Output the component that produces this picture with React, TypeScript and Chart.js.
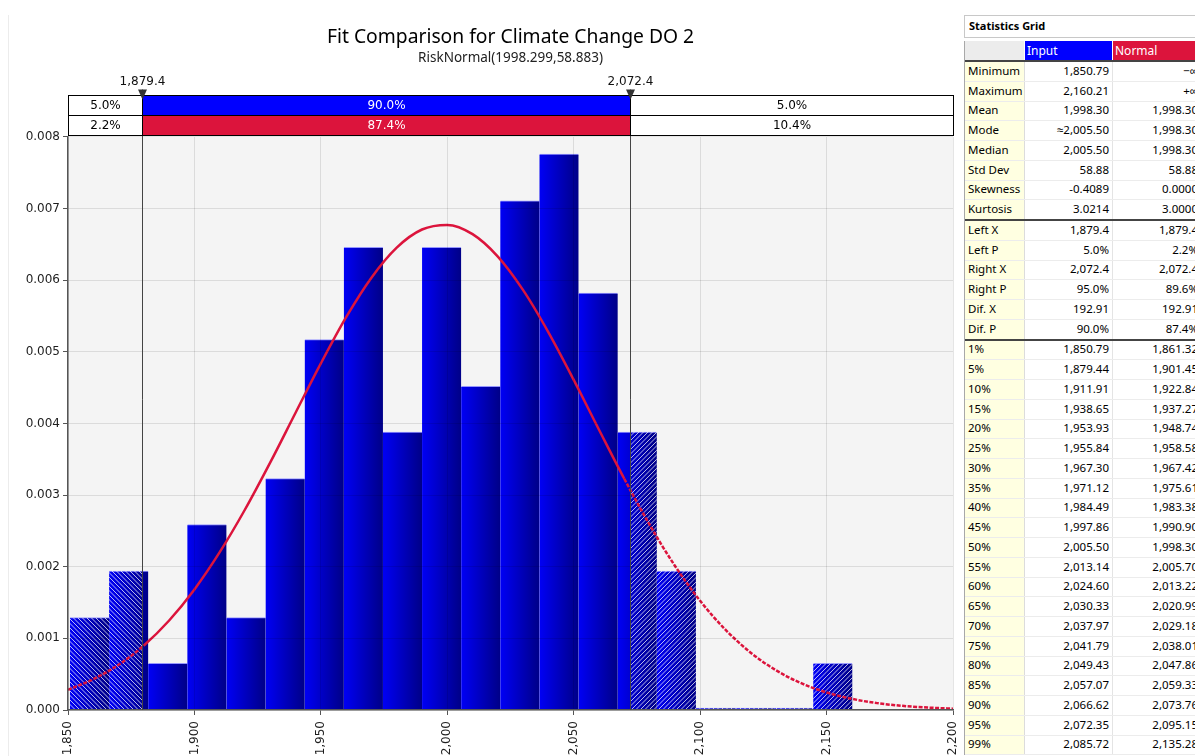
import React, { useEffect, useRef } from "react";
import { Chart, registerables } from "chart.js";

Chart.register(...registerables);

// ---------- chart data ----------
const titleText = "Fit Comparison for Climate Change DO 2";
const subtitleText = "RiskNormal(1998.299,58.883)";

const binCenters = [
  1858.53, 1874.0, 1889.47, 1904.94, 1920.41, 1935.88, 1951.35, 1966.82, 1982.29, 1997.76,
  2013.24, 2028.71, 2044.18, 2059.65, 2075.12, 2090.59, 2106.06, 2121.53, 2137.0, 2152.47,
];
const binDensity = [
  0.00129, 0.00194, 0.00065, 0.00259, 0.00129, 0.00323, 0.00517, 0.00646, 0.00388, 0.00646,
  0.00452, 0.00711, 0.00776, 0.00582, 0.00388, 0.00194, 0, 0, 0, 0.00065,
];

const curveX = [
  1850, 1860, 1870, 1880, 1890, 1900, 1910, 1920, 1930, 1940, 1950, 1960, 1970, 1980, 1990, 2000,
  2010, 2020, 2030, 2040, 2050, 2060, 2070, 2080, 2090, 2100, 2110, 2120, 2130, 2140, 2150, 2160,
  2170, 2180, 2190, 2200,
];
const curveY = [
  0.000282, 0.00043, 0.000631, 0.0009, 0.001249, 0.001683, 0.002203, 0.002799, 0.003457, 0.00415,
  0.004839, 0.005484, 0.006036, 0.006455, 0.006708, 0.006772, 0.006643, 0.00633, 0.005861, 0.005272,
  0.004608, 0.003913, 0.003228, 0.002587, 0.002014, 0.001524, 0.001121, 0.0008, 0.000555, 0.000374,
  0.000245, 0.000156, 0.000096, 0.000058, 0.000034, 0.000019,
];

const xTickValues = [1850, 1900, 1950, 2000, 2050, 2100, 2150, 2200];
const xTickLabels = ["1,850", "1,900", "1,950", "2,000", "2,050", "2,100", "2,150", "2,200"];
const yTickValues = [0, 0.001, 0.002, 0.003, 0.004, 0.005, 0.006, 0.007, 0.008];
const yTickLabels = ["0.000", "0.001", "0.002", "0.003", "0.004", "0.005", "0.006", "0.007", "0.008"];

const leftDelimiter = 1879.4;
const rightDelimiter = 2072.4;
const delimiterLabels = ["1,879.4", "2,072.4"];
const inputBandPct = ["5.0%", "90.0%", "5.0%"];
const normalBandPct = ["2.2%", "87.4%", "10.4%"];

// ---------- statistics grid ----------
const statLabels = [
  "Minimum", "Maximum", "Mean", "Mode", "Median", "Std Dev", "Skewness", "Kurtosis",
  "Left X", "Left P", "Right X", "Right P", "Dif. X", "Dif. P",
  "1%", "5%", "10%", "15%", "20%", "25%", "30%", "35%", "40%", "45%", "50%",
  "55%", "60%", "65%", "70%", "75%", "80%", "85%", "90%", "95%", "99%",
];
const statInput = [
  "1,850.79", "2,160.21", "1,998.30", "≈2,005.50", "2,005.50", "58.88", "-0.4089", "3.0214",
  "1,879.4", "5.0%", "2,072.4", "95.0%", "192.91", "90.0%",
  "1,850.79", "1,879.44", "1,911.91", "1,938.65", "1,953.93", "1,955.84", "1,967.30", "1,971.12",
  "1,984.49", "1,997.86", "2,005.50", "2,013.14", "2,024.60", "2,030.33", "2,037.97", "2,041.79",
  "2,049.43", "2,057.07", "2,066.62", "2,072.35", "2,085.72",
];
const statNormal = [
  "−∞", "+∞", "1,998.30", "1,998.30", "1,998.30", "58.88", "0.0000", "3.0000",
  "1,879.4", "2.2%", "2,072.4", "89.6%", "192.91", "87.4%",
  "1,861.32", "1,901.45", "1,922.84", "1,937.27", "1,948.74", "1,958.58", "1,967.42", "1,975.61",
  "1,983.38", "1,990.90", "1,998.30", "2,005.70", "2,013.22", "2,020.99", "2,029.18", "2,038.01",
  "2,047.86", "2,059.33", "2,073.76", "2,095.15", "2,135.28",
];
const groupEnds = [7, 13];

const TICK_FONT = { family: "'DejaVu Sans', Verdana, sans-serif", size: 12 };
const BLUE = "#0000ff";
const RED = "#dc143c";

function hatch(ctx: CanvasRenderingContext2D, x: number, y: number, w: number, h: number, dir: number) {
  if (w <= 0.2 || h <= 0.2) return;
  ctx.save();
  ctx.beginPath();
  ctx.rect(x, y, w, h);
  ctx.clip();
  ctx.strokeStyle = "rgba(255,255,255,0.72)";
  ctx.lineWidth = 1;
  ctx.beginPath();
  const s = 4.5;
  if (dir > 0) {
    const c0 = Math.floor((x + y) / s) * s;
    const c1 = x + w + y + h;
    for (let c = c0; c <= c1; c += s) {
      ctx.moveTo(c - y, y);
      ctx.lineTo(c - (y + h), y + h);
    }
  } else {
    const c0 = Math.floor((x - (y + h)) / s) * s;
    const c1 = x + w - y;
    for (let c = c0; c <= c1; c += s) {
      ctx.moveTo(c + y, y);
      ctx.lineTo(c + y + h, y + h);
    }
  }
  ctx.stroke();
  ctx.restore();
}

const histogramPlugin = {
  id: "histDecor",
  beforeDraw(chart: any) {
    const { ctx, chartArea: a } = chart;
    ctx.save();
    ctx.fillStyle = "#f4f4f4";
    ctx.fillRect(a.left, a.top, a.right - a.left, a.bottom - a.top);
    ctx.restore();
  },
  afterDatasetDraw(chart: any, args: any) {
    if (args.index !== 0) return;
    const { ctx } = chart;
    const xs = chart.scales.x;
    const lx = xs.getPixelForValue(leftDelimiter);
    const rx = xs.getPixelForValue(rightDelimiter);
    const meta = chart.getDatasetMeta(0);
    meta.data.forEach((el: any) => {
      const p = el.getProps(["x", "y", "base", "width"], true);
      const l = p.x - p.width / 2;
      const r = p.x + p.width / 2;
      const top = Math.min(p.y, p.base);
      const bot = Math.max(p.y, p.base);
      if (l < lx) hatch(ctx, l, top, Math.min(r, lx) - l, bot - top, -1);
      if (r > rx) {
        const s = Math.max(l, rx);
        hatch(ctx, s, top, r - s, bot - top, 1);
      }
    });
  },
  afterDraw(chart: any) {
    const { ctx, chartArea: a } = chart;
    const xs = chart.scales.x;
    const lx = Math.round(xs.getPixelForValue(leftDelimiter)) + 0.5;
    const rx = Math.round(xs.getPixelForValue(rightDelimiter)) + 0.5;
    const L = Math.round(a.left) + 0.5;
    const R = Math.round(a.right) + 0.5;
    const yB = Math.round(a.top) - 2 + 0.5;
    const rowH = 20;
    const y1 = yB - rowH;
    const y0 = y1 - rowH;
    ctx.save();
    // delimiter vertical lines
    ctx.strokeStyle = "#444";
    ctx.lineWidth = 1;
    [lx, rx].forEach((px) => {
      ctx.beginPath();
      ctx.moveTo(px, y0 - 6);
      ctx.lineTo(px, a.bottom);
      ctx.stroke();
    });
    // band rows
    const rows = [
      { y: y0, fill: BLUE, texts: inputBandPct },
      { y: y1, fill: RED, texts: normalBandPct },
    ];
    ctx.font = "12px 'DejaVu Sans', Verdana, sans-serif";
    ctx.textAlign = "center";
    ctx.textBaseline = "middle";
    rows.forEach((row) => {
      ctx.fillStyle = "#fff";
      ctx.fillRect(L, row.y, lx - L, rowH);
      ctx.fillRect(rx, row.y, R - rx, rowH);
      ctx.fillStyle = row.fill;
      ctx.fillRect(lx, row.y, rx - lx, rowH);
      ctx.strokeStyle = "#000";
      ctx.strokeRect(L, row.y, R - L, rowH);
      ctx.beginPath();
      ctx.moveTo(lx, row.y);
      ctx.lineTo(lx, row.y + rowH);
      ctx.moveTo(rx, row.y);
      ctx.lineTo(rx, row.y + rowH);
      ctx.stroke();
      const cy = row.y + rowH / 2 + 0.5;
      ctx.fillStyle = "#000";
      ctx.fillText(row.texts[0], (L + lx) / 2, cy);
      ctx.fillStyle = "#fff";
      ctx.fillText(row.texts[1], (lx + rx) / 2, cy);
      ctx.fillStyle = "#000";
      ctx.fillText(row.texts[2], (rx + R) / 2, cy);
    });
    // markers and labels
    [lx, rx].forEach((px, i) => {
      ctx.fillStyle = "#333";
      ctx.beginPath();
      ctx.moveTo(px - 4.5, y0 - 6);
      ctx.lineTo(px + 4.5, y0 - 6);
      ctx.lineTo(px, y0 + 4);
      ctx.closePath();
      ctx.fill();
      ctx.fillStyle = "#111";
      ctx.fillText(delimiterLabels[i], px, y0 - 14);
    });
    ctx.restore();
  },
};

function HistogramChart() {
  const ref = useRef<HTMLCanvasElement | null>(null);
  useEffect(() => {
    if (!ref.current) return;
    const chart = new Chart(ref.current, {
      type: "bar",
      data: {
        datasets: [
          {
            type: "bar",
            data: binCenters.map((x, i) => ({ x, y: binDensity[i] })),
            backgroundColor: (c: any) => {
              const ch = c.chart;
              const xs = ch.scales && ch.scales.x;
              if (!xs || c.dataIndex == null || !ch.chartArea) return "#0000c8";
              const cx = xs.getPixelForValue(binCenters[c.dataIndex]);
              const half = (xs.getPixelForValue(binCenters[1]) - xs.getPixelForValue(binCenters[0])) / 2;
              const g = ch.ctx.createLinearGradient(cx - half, 0, cx + half, 0);
              g.addColorStop(0, "rgb(0,0,245)");
              g.addColorStop(1, "rgb(0,0,135)");
              return g;
            },
            borderColor: "rgba(140,140,255,0.9)",
            borderWidth: { top: 1, left: 0, right: 0, bottom: 0 },
            barPercentage: 1,
            categoryPercentage: 1,
            minBarLength: 2,
            order: 2,
          } as any,
          {
            type: "line",
            data: curveX.map((x, i) => ({ x, y: curveY[i] })),
            borderColor: RED,
            borderWidth: 2.5,
            pointRadius: 0,
            fill: false,
            cubicInterpolationMode: "monotone",
            segment: {
              borderDash: (s: any) =>
                s.p1.parsed.x <= leftDelimiter + 1 || s.p0.parsed.x >= rightDelimiter - 3 ? [4, 1.5] : undefined,
            },
            order: 1,
          } as any,
        ],
      },
      options: {
        responsive: false,
        animation: false,
        devicePixelRatio: 1,
        layout: { padding: { left: 0, right: 9, top: 0, bottom: 0 } },
        plugins: {
          legend: { display: false },
          tooltip: { enabled: false },
          title: {
            display: true,
            text: titleText,
            fullSize: false,
            color: "#000",
            font: { family: "'Noto Sans', sans-serif", size: 19.3, weight: "normal", lineHeight: 1.2 },
            padding: { top: 26, bottom: 0 },
          },
          subtitle: {
            display: true,
            text: subtitleText,
            fullSize: false,
            color: "#222",
            font: { family: "'Noto Sans', sans-serif", size: 13.5, weight: "normal", lineHeight: 1.2 },
            padding: { top: 0.5, bottom: 71.1 },
          },
        },
        scales: {
          x: {
            type: "linear",
            min: 1850,
            max: 2200,
            offset: false,
            grid: { offset: false, color: "rgba(0,0,0,0.1)", tickColor: "#555", tickLength: 5, z: 1 },
            border: { color: "#555", width: 1.5, z: 2 },
            ticks: {
              autoSkip: false,
              maxRotation: 90,
              minRotation: 90,
              padding: 6,
              color: "#1e1e1e",
              font: TICK_FONT,
              callback: (_v: any, i: number) => xTickLabels[i],
            },
            afterBuildTicks: (s: any) => {
              s.ticks = xTickValues.map((v) => ({ value: v }));
            },
            afterFit: (s: any) => {
              s.height = 46;
              s.paddingLeft = 0;
              s.paddingRight = 0;
            },
          },
          y: {
            min: 0,
            max: 0.008,
            grid: { color: "rgba(0,0,0,0.1)", tickColor: "#555", tickLength: 5, z: 1 },
            border: { color: "#555", width: 1.5, z: 2 },
            ticks: {
              padding: 3,
              color: "#1e1e1e",
              font: TICK_FONT,
              callback: (_v: any, i: number) => yTickLabels[i],
            },
            afterBuildTicks: (s: any) => {
              s.ticks = yTickValues.map((v) => ({ value: v }));
            },
            afterFit: (s: any) => {
              s.width = 68;
              s.paddingTop = 0;
              s.paddingBottom = 0;
            },
          },
        },
      } as any,
      plugins: [histogramPlugin],
    });
    return () => chart.destroy();
  }, []);
  return (
    <canvas
      ref={ref}
      width={962}
      height={756}
      style={{ position: "absolute", left: 0, top: 0, width: 962, height: 756 }}
    />
  );
}

function StatsGrid() {
  const font = "'Noto Sans', sans-serif";
  const rows = statLabels.map((lab, i) => {
    const isEnd = groupEnds.includes(i);
    return (
      <div
        key={lab}
        style={{
          display: "flex",
          height: isEnd ? 20.75 : 19.75,
          boxSizing: "border-box",
          borderBottom: isEnd ? "2px solid #444" : "1px solid #ececec",
        }}
      >
        <div
          style={{
            width: 60,
            boxSizing: "border-box",
            background: "#ffffe1",
            borderRight: "1px solid #dcdcdc",
            paddingLeft: 3,
            paddingBottom: 2,
            display: "flex",
            alignItems: "center",
          }}
        >
          {lab}
        </div>
        <div
          style={{
            width: 88,
            boxSizing: "border-box",
            borderRight: "1px solid #e4e4e4",
            paddingRight: 3,
            paddingBottom: 2,
            display: "flex",
            alignItems: "center",
            justifyContent: "flex-end",
          }}
        >
          {statInput[i]}
        </div>
        <div
          style={{
            width: 88,
            boxSizing: "border-box",
            paddingRight: 3,
            paddingBottom: 2,
            display: "flex",
            alignItems: "center",
            justifyContent: "flex-end",
          }}
        >
          {statNormal[i]}
        </div>
      </div>
    );
  });
  return (
    <>
      <div
        style={{
          position: "absolute",
          left: 964,
          top: 15,
          width: 300,
          height: 23,
          boxSizing: "border-box",
          border: "1px solid #c8c8c8",
          fontFamily: font,
          fontWeight: "bold",
          fontSize: 11,
          lineHeight: "20px",
          paddingLeft: 4,
          color: "#000",
        }}
      >
        Statistics Grid
      </div>
      <div
        style={{
          position: "absolute",
          left: 964,
          top: 41,
          width: 300,
          fontFamily: font,
          fontSize: 11.5,
          color: "#000",
          borderLeft: "1px solid #a8a8a8",
        }}
      >
        <div style={{ display: "flex", height: 21, boxSizing: "border-box", borderBottom: "2px solid #444" }}>
          <div style={{ width: 60, background: "#ececec", borderRight: "1px solid #fff", boxSizing: "border-box" }} />
          <div
            style={{
              width: 88,
              background: BLUE,
              color: "#fff",
              borderRight: "1px solid #fff",
              boxSizing: "border-box",
              paddingLeft: 2,
              paddingBottom: 1,
              display: "flex",
              alignItems: "center",
              fontSize: 12,
            }}
          >
            Input
          </div>
          <div
            style={{
              width: 88,
              background: RED,
              color: "#fff",
              boxSizing: "border-box",
              paddingLeft: 2,
              paddingBottom: 1,
              display: "flex",
              alignItems: "center",
              fontSize: 12,
            }}
          >
            Normal
          </div>
        </div>
        {rows}
      </div>
    </>
  );
}

export default function App() {
  return (
    <div
      style={{
        position: "fixed",
        left: 0,
        top: 0,
        width: 1195,
        height: 756,
        overflow: "hidden",
        background: "#fff",
      }}
    >
      <div style={{ position: "absolute", left: 8, top: 15, width: 1, height: 741, background: "#ececec" }} />
      <HistogramChart />
      <StatsGrid />
    </div>
  );
}
